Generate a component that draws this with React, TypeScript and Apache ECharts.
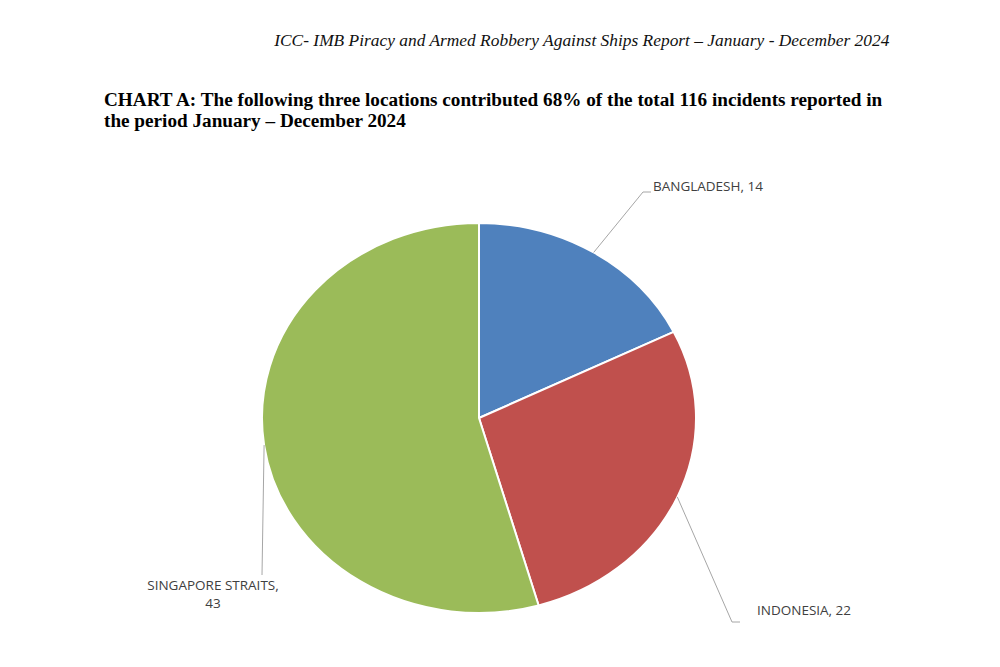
import React, { useEffect, useRef } from "react";
import * as echarts from "echarts";

const headerText = "ICC- IMB Piracy and Armed Robbery Against Ships Report – January - December 2024";
const titleLines = [
  "CHART A: The following three locations contributed 68% of the total 116 incidents reported in",
  "the period January – December 2024",
];
const categories = ["BANGLADESH", "INDONESIA", "SINGAPORE STRAITS"];
const values = [14, 22, 43];
const colors = ["#4F81BD", "#C0504D", "#9BBB59"];

// label layout (positions only)
const labelLayout = [
  { elbow: [643, 192], end: [651, 192], text: [653, 186], align: "left", lines: (c: string, v: number) => `${c}, ${v}` },
  { elbow: [732, 622], end: [740, 622], text: [757, 610], align: "left", lines: (c: string, v: number) => `${c}, ${v}` },
  { elbow: [262, 575], end: [262, 575], text: [213, 594], align: "center", lines: (c: string, v: number) => `${c},\n${v}` },
];

const CX = 479;
const CY = 418;
const RX = 217;
const RY = 195;

export default function App() {
  const ref = useRef<HTMLDivElement>(null);
  useEffect(() => {
    if (!ref.current) return;
    const chart = echarts.init(ref.current, null, { renderer: "svg" });
    const total = values.reduce((a, b) => a + b, 0);
    const starts: number[] = [];
    let acc = 0;
    values.forEach((v) => {
      starts.push(acc);
      acc += v;
    });
    const pt = (deg: number) => {
      const t = (deg * Math.PI) / 180;
      return [CX + RX * Math.sin(t), CY - RY * Math.cos(t)];
    };
    chart.setOption({
      animation: false,
      backgroundColor: "#ffffff",
      graphic: [
        {
          type: "text",
          right: 110,
          top: 31,
          style: {
            text: headerText,
            font: "italic 17.4px 'Liberation Serif'",
            fill: "#111",
          },
        },
        {
          type: "text",
          left: 104,
          top: 89,
          style: {
            text: titleLines.join("\n"),
            font: "bold 19.2px 'Liberation Serif'",
            lineHeight: 21,
            fill: "#000",
          },
        },
      ],
      series: [
        {
          type: "custom",
          coordinateSystem: "none",
          data: values.map((v, i) => ({ value: v, name: categories[i] })),
          renderItem: (params: any, api: any) => {
            const i = params.dataIndex;
            const v = api.value(0);
            const a0 = (starts[i] / total) * 360;
            const a1 = ((starts[i] + v) / total) * 360;
            const p0 = pt(a0);
            const p1 = pt(a1);
            const large = a1 - a0 > 180 ? 1 : 0;
            const d = `M${CX} ${CY} L${p0[0]} ${p0[1]} A${RX} ${RY} 0 ${large} 1 ${p1[0]} ${p1[1]} Z`;
            const mid = pt((a0 + a1) / 2);
            const L = labelLayout[i];
            return {
              type: "group",
              children: [
                {
                  type: "path",
                  shape: { pathData: d },
                  style: { fill: colors[i], stroke: "#ffffff", lineWidth: 2, lineJoin: "round" },
                },
                {
                  type: "polyline",
                  shape: { points: [mid, L.elbow, L.end] },
                  style: { stroke: "#A6A6A6", lineWidth: 1, fill: null },
                  z2: 5,
                },
                {
                  type: "text",
                  x: L.text[0],
                  y: L.text[1],
                  style: {
                    text: L.lines(categories[i], v),
                    font: "13.5px 'Open Sans'",
                    fill: "#404040",
                    align: L.align,
                    verticalAlign: "middle",
                    lineHeight: 18,
                  },
                  z2: 6,
                },
              ],
            };
          },
        },
      ],
    });
    return () => chart.dispose();
  }, []);
  return (
    <div
      ref={ref}
      style={{ position: "fixed", left: 0, top: 0, width: 1000, height: 667 }}
    />
  );
}
